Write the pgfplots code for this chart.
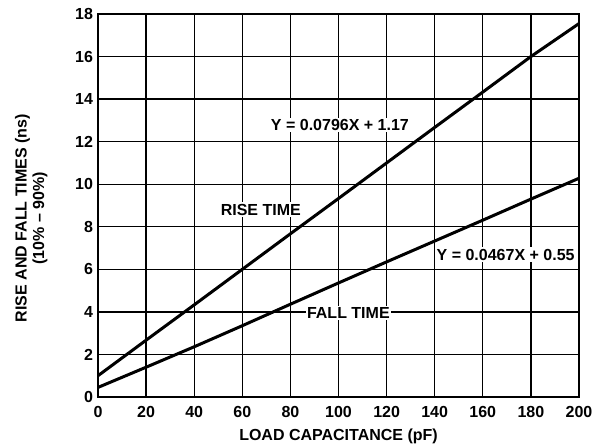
\documentclass[border=0pt]{standalone}
\usepackage{fontspec}
\setmainfont{Liberation Sans}
\usepackage{pgfplots}
\pgfplotsset{compat=1.18}
\begin{document}
\begin{tikzpicture}[font=\fontsize{16}{17.5}\selectfont\bfseries]
\begin{axis}[
 scale only axis, width=481pt, height=383pt,
 xmin=0,xmax=200,ymin=0,ymax=18,
 xtick={0,20,...,200}, ytick={0,2,...,18},
 grid=major, major grid style={black, line width=1.3pt},
 axis line style={line width=1.7pt},
 major tick length=0pt,
 /pgf/number format/assume math mode=true,
 tick label style={font=\fontsize{16}{17.5}\selectfont\bfseries},
 xticklabel style={yshift=-5.5pt},
 yticklabel style={xshift=-1.5pt},
 xlabel={LOAD CAPACITANCE (pF)},
 ylabel={RISE AND FALL TIMES (ns)\\(10\% -- 90\%)},
 label style={font=\fontsize{16}{17.5}\selectfont\bfseries},
 xlabel style={at={(axis description cs:0.5,-0.104)},anchor=center},
 ylabel style={at={(axis description cs:-0.139,0.467)},anchor=center,align=center},
 clip=true,
]
\addplot[black, line width=3pt, line join=round] coordinates {
(0,1.0) (20,2.67) (40,4.33) (60,6.0) (80,7.67) (100,9.33) (120,11.0) (140,12.67) (160,14.33) (180,16.0) (200,17.55)};
\addplot[black, line width=3pt, line join=round] coordinates {
(0,0.45) (20,1.4) (40,2.36) (60,3.35) (80,4.36) (100,5.36) (120,6.35) (140,7.33) (160,8.31) (180,9.3) (200,10.28)};
\node[fill=white, inner sep=1.5pt] at (axis cs:100.6,12.77) {Y = 0.0796X + 1.17};
\node[fill=white, inner sep=1.5pt] at (axis cs:67.7,8.81) {RISE TIME};
\node[fill=white, inner sep=1.5pt] at (axis cs:104.1,3.96) {FALL TIME};
\node[fill=white, inner sep=1.5pt] at (axis cs:169.5,6.69) {Y = 0.0467X + 0.55};
\end{axis}
\path ([xshift=-98pt,yshift=-47pt]current axis.south west) rectangle ([xshift=19pt,yshift=14pt]current axis.north east);
\end{tikzpicture}
\end{document}
